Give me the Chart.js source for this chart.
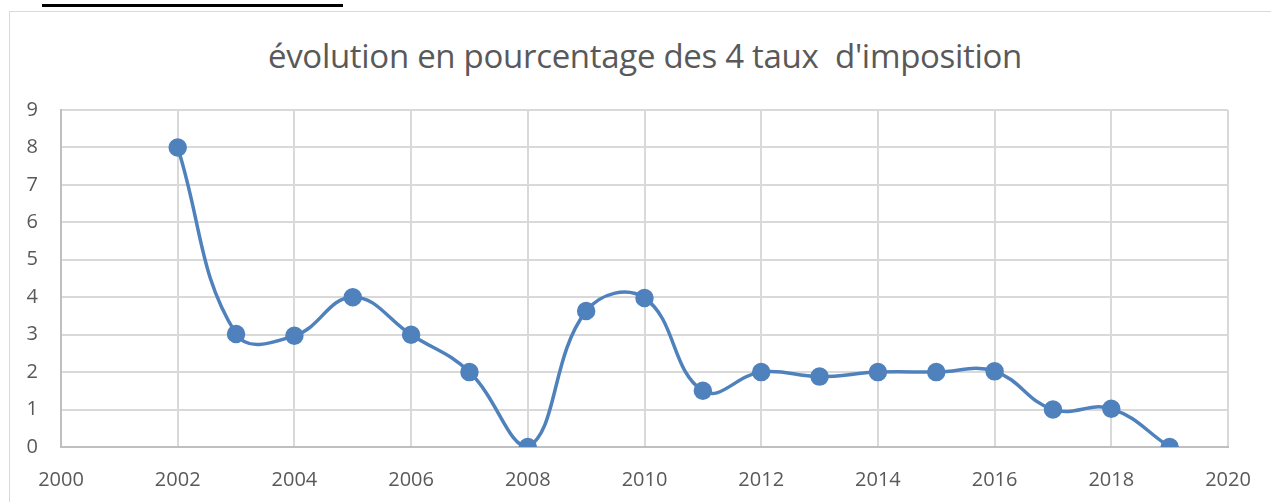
<!DOCTYPE html>
<html>
<head>
<meta charset="utf-8">
<script src="https://cdn.jsdelivr.net/npm/chart.js@4.4.1/dist/chart.umd.min.js"></script>
<style>
  html,body{margin:0;padding:0;background:#fff;}
  #wrap{position:relative;width:1271px;height:502px;overflow:hidden;}
  #underline{position:absolute;left:42px;top:4px;width:301px;height:3px;background:#000;}
  #frame{position:absolute;left:9px;top:11px;width:1300px;height:520px;border:1px solid #d9d9d9;box-sizing:border-box;}
  #title{position:absolute;left:0;width:1290px;top:36px;line-height:40px;text-align:center;font-family:"Open Sans",sans-serif;font-size:33px;color:#595959;white-space:pre;letter-spacing:-0.3px;}
  canvas{position:absolute;left:0;top:0;}
</style>
</head>
<body>
<div id="wrap">
  <div id="underline"></div>
  <div id="frame"></div>
  <div id="title">évolution en pourcentage des 4 taux  d'imposition</div>
  <canvas id="chart" width="1271" height="502"></canvas>
</div>
<script>
const years = [2002, 2003, 2004, 2005, 2006, 2007, 2008, 2009, 2010, 2011, 2012, 2013, 2014, 2015, 2016, 2017, 2018, 2019];
const taux = [8, 3.02, 2.97, 4, 3, 2, 0, 3.63, 3.98, 1.5, 2, 1.88, 2, 2, 2.02, 1, 1.02, 0];
const xRange = [2000, 2020];
const yRange = [0, 9];

const points = years.map((y, i) => ({ x: y, y: taux[i] }));
const tickFont = { family: '"Open Sans", sans-serif', size: 20 };

new Chart(document.getElementById('chart').getContext('2d'), {
  type: 'scatter',
  data: { datasets: [{
    data: points,
    showLine: true,
    borderColor: '#4f81bd',
    backgroundColor: '#4f81bd',
    borderWidth: 3.5,
    pointRadius: 7.5,
    pointHoverRadius: 7.5,
    tension: 0.42
  }]},
  options: {
    responsive: false,
    animation: false,
    layout: { padding: { left: 0, right: 43, top: 110, bottom: 0 } },
    plugins: { legend: { display: false }, tooltip: { enabled: false }, title: { display: false } },
    scales: {
      x: {
        type: 'linear', min: xRange[0], max: xRange[1],
        ticks: { stepSize: 2, color: '#595959', font: tickFont, padding: 21, callback: v => String(v) },
        grid: { color: '#d9d9d9', lineWidth: 2, drawTicks: false },
        border: { color: '#bfbfbf', width: 2 },
        afterFit: s => { s.height = 55; s.paddingLeft = 0; s.paddingRight = 0; }
      },
      y: {
        min: yRange[0], max: yRange[1],
        ticks: { stepSize: 1, color: '#595959', font: tickFont, padding: 23 },
        grid: { color: '#d9d9d9', lineWidth: 2, drawTicks: false },
        border: { color: '#bfbfbf', width: 2 },
        afterFit: s => { s.width = 61; }
      }
    }
  }
});
</script>
</body>
</html>
